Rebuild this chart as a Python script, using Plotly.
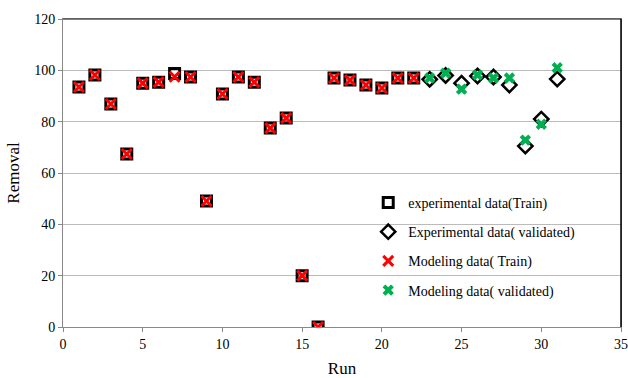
import plotly.graph_objects as go

run_train = list(range(1, 23))
exp_train = [93.5, 98.2, 86.9, 67.4, 95.0, 95.4, 98.8, 97.4, 49.1, 90.8, 97.4, 95.4,
             77.5, 81.4, 20.0, 0.0, 97.0, 96.2, 94.3, 93.1, 97.0, 97.0]
mod_train = [93.5, 98.2, 86.9, 67.4, 95.0, 95.4, 97.5, 97.4, 49.1, 90.8, 97.4, 95.4,
             77.5, 81.4, 20.0, 0.0, 97.0, 96.2, 94.3, 93.1, 97.0, 97.0]
run_val = list(range(23, 32))
exp_val = [96.5, 98.0, 95.0, 97.8, 97.4, 94.3, 70.5, 81.0, 96.6]
mod_val = [97.0, 98.9, 92.7, 98.2, 97.0, 97.0, 72.8, 79.0, 101.0]

fig = go.Figure()
fig.add_trace(go.Scatter(x=run_train, y=exp_train, mode="markers", name="experimental data(Train)",
                         legendgroup="a",
                         marker=dict(symbol="square-open", size=10, color="black", line=dict(width=3, color="black"))))
fig.add_trace(go.Scatter(x=run_val, y=exp_val, mode="markers", name="Experimental data( validated)",
                         legendgroup="b",
                         marker=dict(symbol="diamond-open", size=11, color="black", line=dict(width=2.5, color="black"))))
fig.add_trace(go.Scatter(x=run_train, y=mod_train, mode="markers", name="Modeling data( Train)",
                         legendgroup="c",
                         marker=dict(symbol="x-thin-open", size=10, color="#FF0000", line=dict(width=3, color="#FF0000"))))
fig.add_trace(go.Scatter(x=run_val, y=mod_val, mode="markers", name="Modeling data( validated)",
                         legendgroup="d",
                         marker=dict(symbol="x", size=10, color="#00B050", line=dict(width=0))))

font = "Times New Roman, Liberation Serif, serif"
tf = dict(family=font, size=14, color="black")
fig.update_layout(
    width=628, height=378,
    margin=dict(l=63, r=7, t=19, b=51),
    paper_bgcolor="white", plot_bgcolor="white",
    font=dict(family=font, size=14, color="black"),
    showlegend=True,
    legend=dict(x=0.547, y=0.455, xanchor="left", yanchor="top", bgcolor="rgba(0,0,0,0)",
                font=dict(family=font, size=14, color="black"), tracegroupgap=8, traceorder="grouped",
                itemwidth=30),
    xaxis=dict(range=[0, 35], tickvals=[0, 5, 10, 15, 20, 25, 30, 35], showgrid=False,
               showline=True, linecolor="#888", linewidth=1, mirror=True, automargin=False,
               ticks="outside", ticklen=4, tickcolor="#888", zeroline=False, tickfont=tf,
               title=dict(text="Run", font=dict(family=font, size=17, color="black"), standoff=15)),
    yaxis=dict(range=[0, 120], tickvals=[0, 20, 40, 60, 80, 100, 120], showgrid=True,
               gridcolor="#bbbbbb", gridwidth=1, automargin=False,
               showline=True, linecolor="#888", linewidth=1, mirror=True,
               ticks="outside", ticklen=4, tickcolor="#888", zeroline=False, tickfont=tf,
               title=dict(text="Removal", font=dict(family=font, size=17, color="black"), standoff=10)),
)
fig.add_shape(type="line", xref="paper", yref="paper", x0=0, x1=1, y0=1, y1=1,
              line=dict(color="#555", width=1.5))
fig.add_shape(type="line", xref="paper", yref="paper", x0=1, x1=1, y0=0, y1=1,
              line=dict(color="black", width=1.5))
fig.write_html("out.html")
